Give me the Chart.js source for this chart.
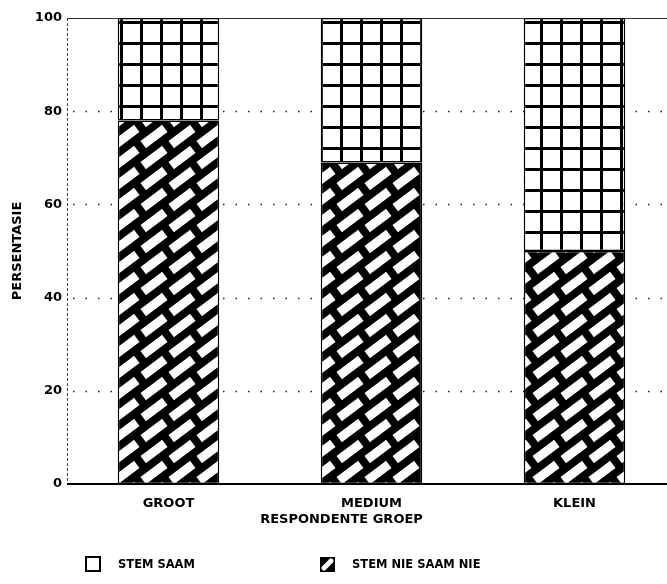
<!DOCTYPE html>
<html>
<head>
<meta charset="utf-8">
<script src="https://cdn.jsdelivr.net/npm/chart.js@4/dist/chart.umd.min.js"></script>
<style>
    html, body { margin: 0; padding: 0; background: #fff; overflow: hidden; }
    #wrap { width: 667px; height: 584px; overflow: hidden; }
    #box { width: 690px; height: 584px; }
</style>
</head>
<body>
<div id="wrap"><div id="box"><canvas id="barChart"></canvas></div></div>
<script>
var categories = ['GROOT', 'MEDIUM', 'KLEIN'];
var stemNieSaamNie = [78, 69, 50];
var stemSaam = [22, 31, 50];
var yTicks = [0, 20, 40, 60, 80, 100];
var seriesNames = ['STEM SAAM', 'STEM NIE SAAM NIE'];
var axisTitleX = 'RESPONDENTE GROEP';
var axisTitleY = 'PERSENTASIE';

var fontName = "'DejaVu Sans', 'Liberation Sans', Arial, sans-serif";

function makeGridPattern() {
    var c = document.createElement('canvas');
    c.width = 20;
    c.height = 21;
    var g = c.getContext('2d');
    g.fillStyle = '#fff';
    g.fillRect(0, 0, 20, 21);
    g.fillStyle = '#000';
    g.fillRect(0, 0, 20, 3);
    g.fillRect(0, 0, 3, 21);
    return g.createPattern(c, 'repeat');
}

function makeBrickPattern() {
    var w = 28, h = 21;
    var c = document.createElement('canvas');
    c.width = w;
    c.height = h;
    var g = c.getContext('2d');
    g.fillStyle = '#000';
    g.fillRect(0, 0, w, h);
    g.strokeStyle = '#fff';
    g.lineWidth = 9;
    g.lineCap = 'butt';
    var half = 13.5;
    var dx = half * 0.8, dy = half * 0.6;
    for (var i = -1; i <= 1; i++) {
        for (var j = -1; j <= 1; j++) {
            var cx = w / 2 + i * w, cy = h / 2 + j * h;
            g.beginPath();
            g.moveTo(cx - dx, cy + dy);
            g.lineTo(cx + dx, cy - dy);
            g.stroke();
        }
    }
    return g.createPattern(c, 'repeat');
}

var customDraw = {
    id: 'customDraw',
    beforeDatasetsDraw: function(chart) {
        var ctx = chart.ctx;
        var area = chart.chartArea;
        var y = chart.scales.y;
        ctx.save();
        ctx.strokeStyle = '#222';
        ctx.lineWidth = 1.5;
        ctx.setLineDash([1.5, 11]);
        yTicks.forEach(function(v) {
            if (v === 0 || v === 100) return;
            var py = Math.round(y.getPixelForValue(v)) + 0.5;
            ctx.beginPath();
            ctx.moveTo(area.left + 6, py);
            ctx.lineTo(area.right, py);
            ctx.stroke();
        });
        // left axis
        ctx.setLineDash([3, 2]);
        ctx.lineWidth = 1;
        ctx.strokeStyle = '#444';
        ctx.beginPath();
        ctx.moveTo(area.left + 0.5, area.top);
        ctx.lineTo(area.left + 0.5, area.bottom);
        ctx.stroke();
        // top line
        ctx.setLineDash([]);
        ctx.strokeStyle = '#333';
        ctx.beginPath();
        var top = Math.round(y.getPixelForValue(100)) + 0.5;
        ctx.moveTo(area.left, top);
        ctx.lineTo(area.right, top);
        ctx.stroke();
        ctx.restore();
    },
    afterDatasetsDraw: function(chart) {
        var ctx = chart.ctx;
        var area = chart.chartArea;
        var y = chart.scales.y;
        var x = chart.scales.x;
        ctx.save();
        ctx.strokeStyle = '#000';
        ctx.lineWidth = 2;
        var py = Math.round(y.getPixelForValue(0));
        ctx.beginPath();
        ctx.moveTo(area.left, py);
        ctx.lineTo(area.right, py);
        ctx.stroke();

        // x axis title
        ctx.fillStyle = '#000';
        ctx.font = 'bold 13px ' + fontName;
        ctx.textAlign = 'center';
        ctx.textBaseline = 'middle';
        ctx.fillText(axisTitleX, x.getPixelForValue(1) - 30, area.bottom + 36);

        // legend
        var ly = area.bottom + 73;
        ctx.font = 'bold 11.5px ' + fontName;
        ctx.textAlign = 'left';
        ctx.fillStyle = '#fff';
        ctx.fillRect(86, ly, 14, 14);
        ctx.strokeRect(86, ly, 14, 14);
        ctx.fillStyle = '#000';
        ctx.fillText(seriesNames[0], 118, ly + 8);

        ctx.fillRect(320, ly, 15, 15);
        ctx.strokeStyle = '#fff';
        ctx.lineWidth = 5;
        ctx.lineCap = 'round';
        ctx.beginPath();
        ctx.moveTo(324, ly + 11);
        ctx.lineTo(331, ly + 4);
        ctx.stroke();
        ctx.fillStyle = '#000';
        ctx.fillText(seriesNames[1], 352, ly + 8);
        ctx.restore();
    }
};

var myChart = new Chart(document.getElementById('barChart'), {
    type: 'bar',
    data: {
        labels: categories,
        datasets: [{
            label: seriesNames[1],
            data: stemNieSaamNie,
            backgroundColor: makeBrickPattern(),
            borderColor: '#000',
            borderWidth: 1.5,
            borderSkipped: false,
            barPercentage: 0.5,
            categoryPercentage: 1
        }, {
            label: seriesNames[0],
            data: stemSaam,
            backgroundColor: makeGridPattern(),
            borderColor: '#000',
            borderWidth: 1.5,
            borderSkipped: false,
            barPercentage: 0.5,
            categoryPercentage: 1
        }]
    },
    options: {
        responsive: true,
        maintainAspectRatio: false,
        animation: false,
        layout: { padding: { top: 18, right: 14, left: 0, bottom: 0 } },
        plugins: {
            legend: { display: false },
            tooltip: { enabled: false }
        },
        scales: {
            x: {
                stacked: true,
                grid: { display: false, drawTicks: false },
                border: { display: false },
                ticks: {
                    padding: 12,
                    color: '#000',
                    font: { family: fontName, size: 13, weight: 'bold' }
                },
                afterFit: function(scale) { scale.height = 100; }
            },
            y: {
                stacked: true,
                min: 0,
                max: 100,
                grid: { display: false, drawTicks: false },
                border: { display: false },
                ticks: {
                    stepSize: 20,
                    padding: 5,
                    color: '#000',
                    font: { family: fontName, size: 13, weight: 'bold' }
                },
                title: {
                    display: true,
                    text: axisTitleY,
                    color: '#000',
                    padding: { top: 10, bottom: 0 },
                    font: { family: fontName, size: 13, weight: 'bold' }
                },
                afterFit: function(scale) { scale.width = 67; }
            }
        }
    },
    plugins: [customDraw]
});
</script>
</body>
</html>
